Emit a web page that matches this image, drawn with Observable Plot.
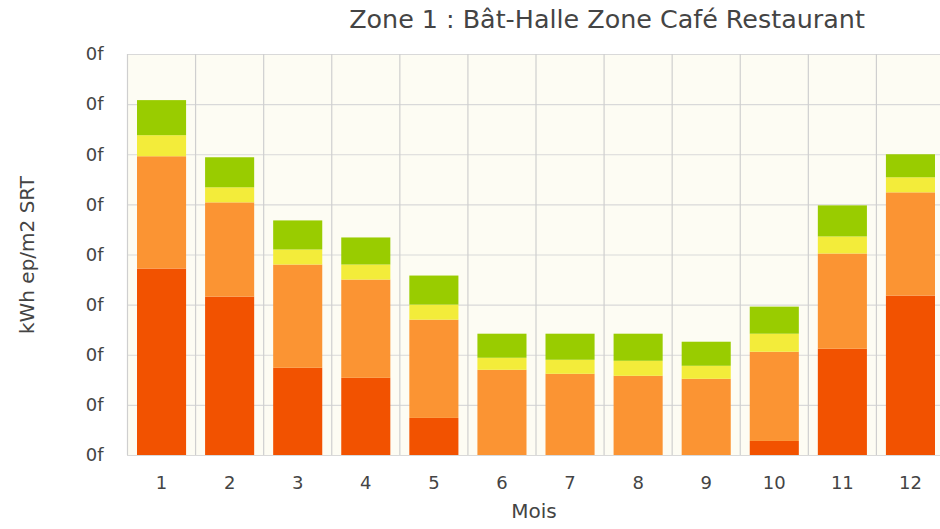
<!DOCTYPE html>
<html><head><meta charset="utf-8">
<script src="https://cdn.jsdelivr.net/npm/d3@7"></script>
<script src="https://cdn.jsdelivr.net/npm/@observablehq/plot@0.6"></script>
<style>
body{margin:0;background:#fff;font-family:"DejaVu Sans",sans-serif;color:#444;}
#title{height:40px;position:relative;}
#title span{position:absolute;left:607px;top:7px;transform:translateX(-50%);font-size:25.4px;line-height:1;white-space:nowrap;color:#444;}
</style></head><body>
<div id="title"><span>Zone 1 : Bât-Halle Zone Café Restaurant</span></div>
<div id="chart"></div>
<script>
const months = [1,2,3,4,5,6,7,8,9,10,11,12];
const seriesNames = ["Série 1", "Série 2", "Série 3", "Série 4"];
const serie1 = [3.72, 3.16, 1.74, 1.54, 0.74, 0, 0, 0, 0, 0.28, 2.12, 3.18];
const serie2 = [2.24, 1.88, 2.06, 1.96, 1.96, 1.70, 1.62, 1.58, 1.52, 1.78, 1.90, 2.06];
const serie3 = [0.42, 0.30, 0.30, 0.30, 0.30, 0.24, 0.28, 0.30, 0.26, 0.36, 0.34, 0.30];
const serie4 = [0.70, 0.60, 0.58, 0.54, 0.58, 0.48, 0.52, 0.54, 0.48, 0.54, 0.62, 0.46];
const seriesColors = ["#f25200", "#fb9433", "#f3ec3a", "#99cc00"];
const yTicks = [0,1,2,3,4,5,6,7,8];
const yTickLabels = ["0f","0f","0f","0f","0f","0f","0f","0f","0f"];
const xLabel = "Mois";
const yLabel = "kWh ep/m2 SRT";

const allSeries = [serie1, serie2, serie3, serie4];
const data = [];
allSeries.forEach((vals, s) => vals.forEach((v, i) => data.push({month: months[i], series: seriesNames[s], value: v})));
const boundaries = months.map(m => m - 0.5).concat([months[months.length-1] + 0.5]);

const plot = Plot.plot({
  width: 940, height: 489,
  marginTop: 14, marginBottom: 74, marginLeft: 127, marginRight: 0,
  x: {domain: [0.5, 12.5], range: [127, 944]},
  y: {domain: [0, 8], range: [415, 14]},
  color: {domain: seriesNames, range: seriesColors},
  style: {fontFamily: "DejaVu Sans", fontSize: "18px", color: "#444", background: "transparent", overflow: "visible"},
  marks: [
    Plot.frame({fill: "#fdfcf3", stroke: "none"}),
    Plot.ruleY(yTicks, {stroke: "#d9d9d9", strokeWidth: 1.2}),
    Plot.ruleX(boundaries, {stroke: "#cfcfcf", strokeWidth: 1.2}),
    Plot.rectY(data, Plot.stackY({x1: d => d.month - 0.5, x2: d => d.month + 0.5, y: "value", fill: "series", insetLeft: 10, insetRight: 9})),
    Plot.axisX(months, {tickSize: 0, tickPadding: 21, label: null, fill: "#444"}),
    Plot.axisY(yTicks, {tickSize: 0, tickPadding: 24, label: null, tickFormat: (d, i) => yTickLabels[i], fill: "#444"}),
    Plot.text([xLabel], {frameAnchor: "bottom", dy: 62, fill: "#444", fontSize: 20}),
    Plot.text([yLabel], {frameAnchor: "left", textAnchor: "middle", dx: -100, rotate: -90, fill: "#444", fontSize: 20})
  ]
});
document.getElementById("chart").appendChild(plot);
</script>
</body></html>
